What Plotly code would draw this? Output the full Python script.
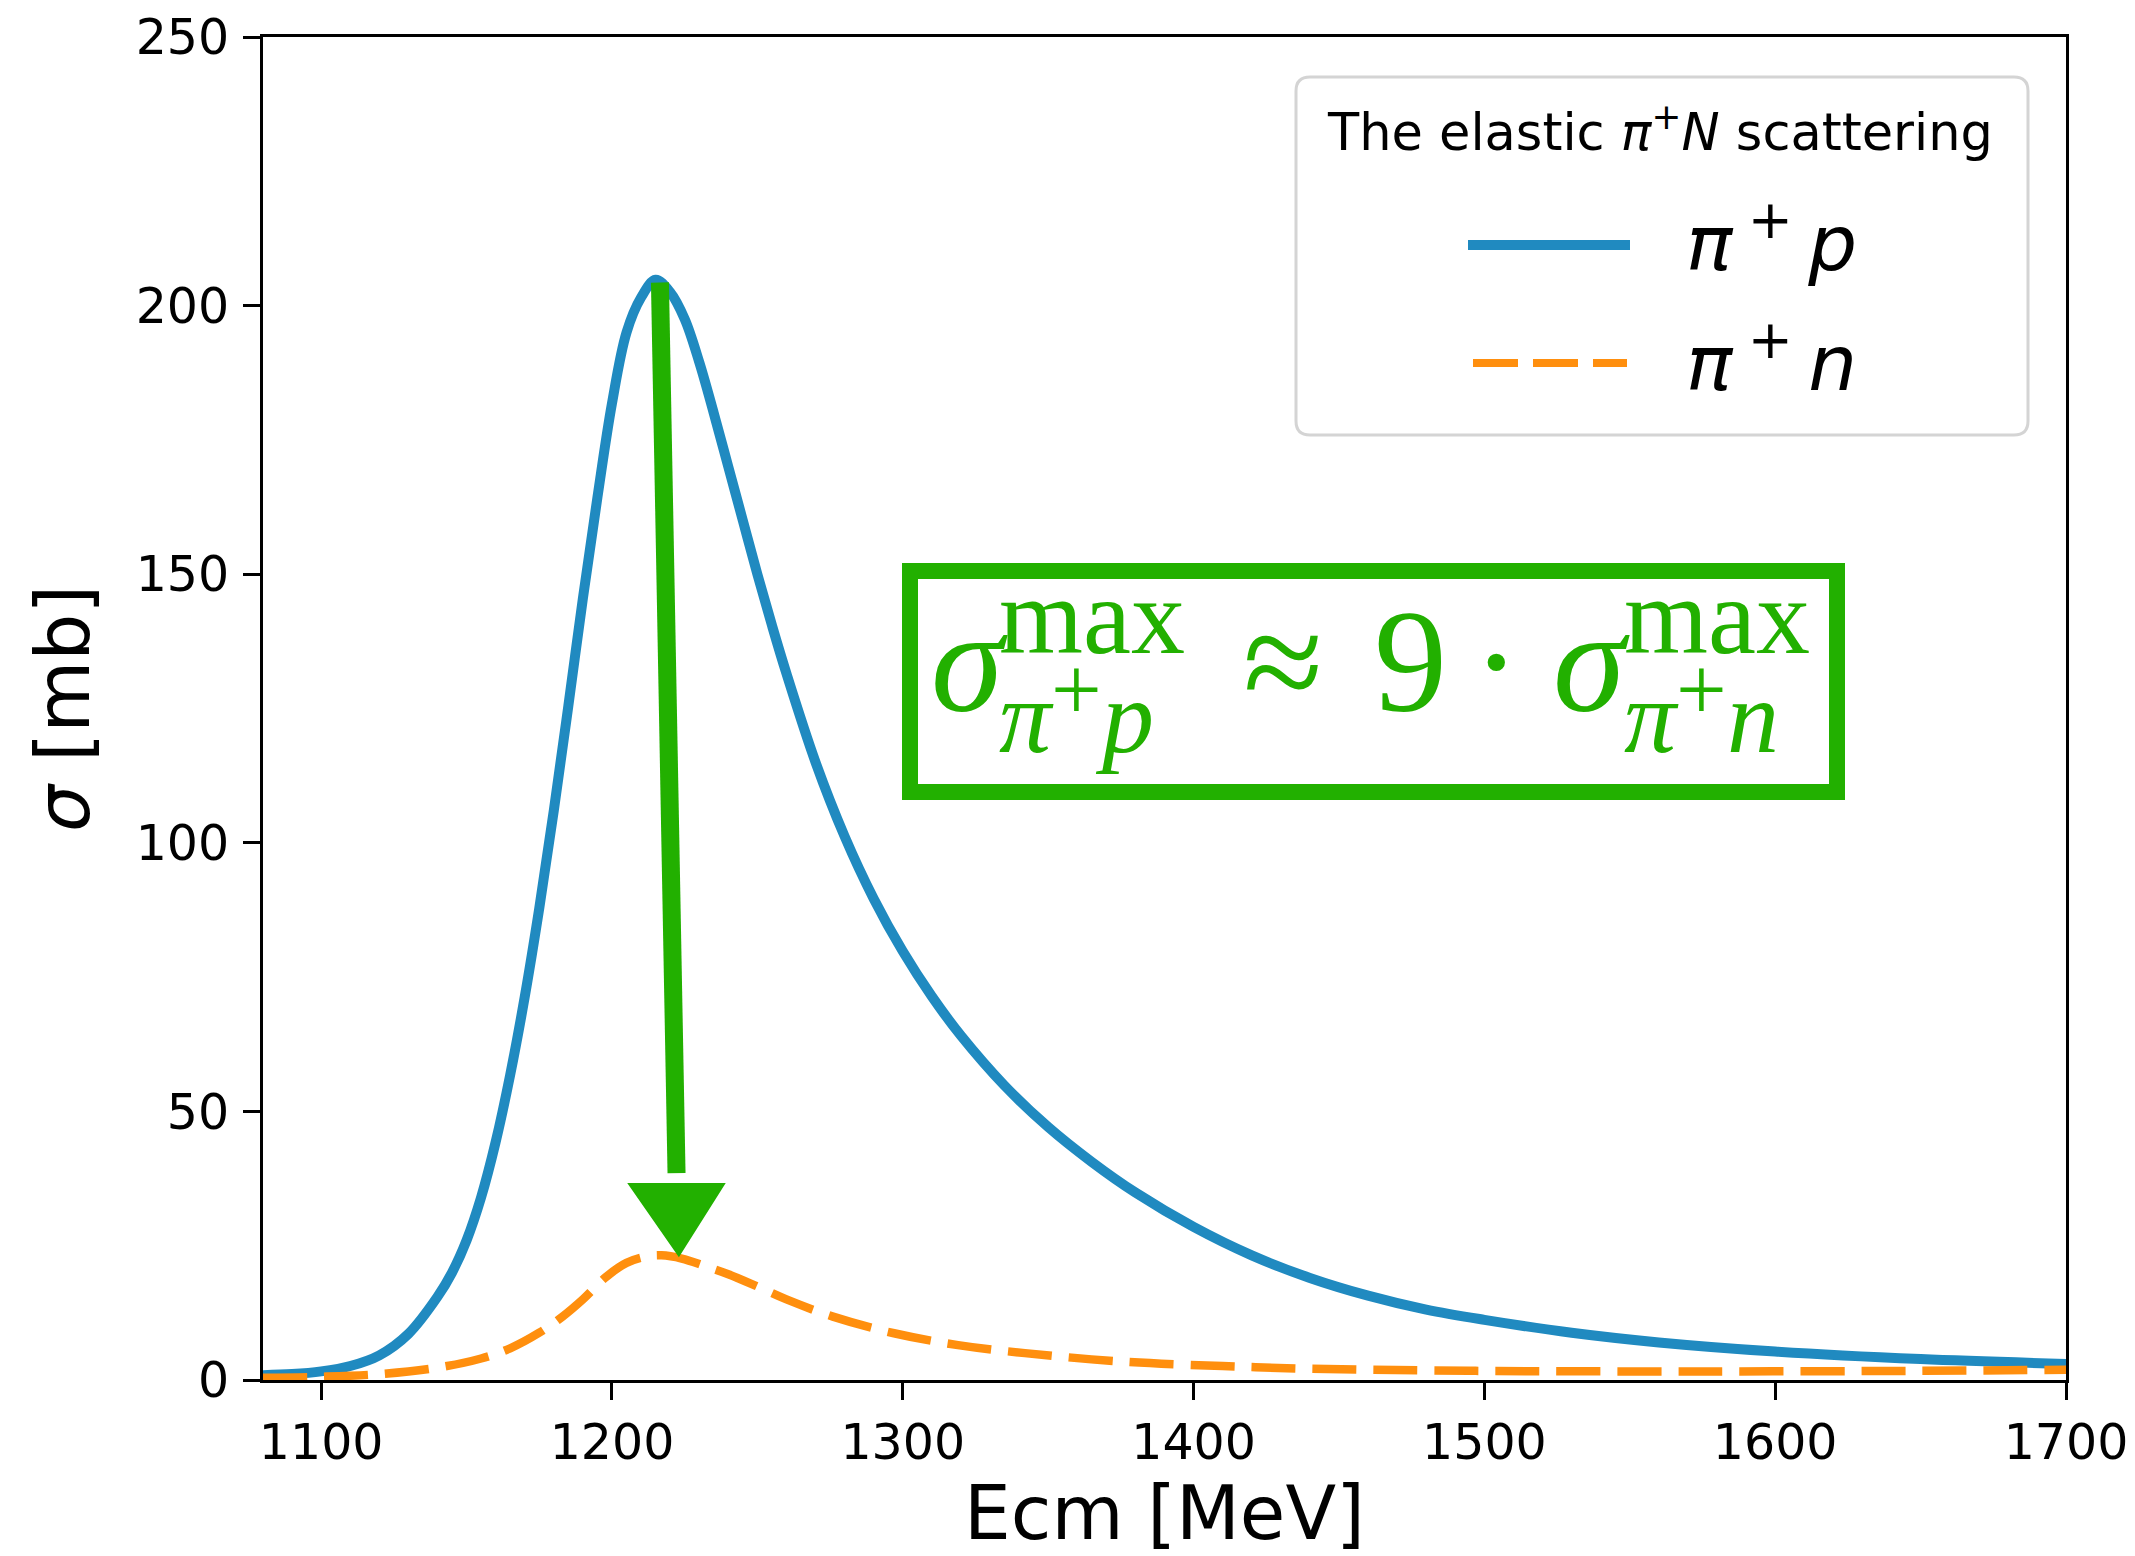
import plotly.graph_objects as go

# ---------------- data ----------------
energy_p = [1080, 1090, 1100, 1110, 1120, 1130, 1140, 1145, 1150, 1155, 1160, 1165,
            1170, 1175, 1180, 1185, 1190, 1195, 1200, 1205, 1210, 1215, 1220, 1225,
            1230, 1235, 1240, 1245, 1250, 1255, 1260, 1270, 1280, 1290, 1300, 1310,
            1320, 1335, 1350, 1365, 1380, 1400, 1420, 1440, 1460, 1480, 1500, 1530,
            1560, 1600, 1650, 1700]
sigma_p = [0.9, 1.1, 1.6, 2.6, 4.6, 8.6, 15.5, 20.0, 26.0, 34.0, 44.3, 56.8,
           71.3, 87.8, 106.0, 125.5, 145.5, 164.3, 181.8, 195.0, 201.5, 204.8, 202.5, 197.5,
           189.5, 180.0, 170.0, 160.0, 150.0, 140.5, 131.5, 115.0, 101.2, 89.6, 79.8, 71.4,
           64.1, 54.8, 47.1, 40.6, 34.9, 28.5, 23.2, 19.0, 15.7, 13.1, 11.2, 8.8,
           7.0, 5.3, 3.9, 3.0]

energy_n = [1080, 1100, 1120, 1140, 1155, 1165, 1175, 1183, 1190, 1198, 1205, 1212,
            1217, 1224, 1232, 1240, 1250, 1260, 1276, 1297, 1319, 1342, 1376, 1410,
            1440, 1497, 1574, 1650, 1700]
sigma_n = [0.4, 0.6, 1.1, 2.3, 4.0, 5.9, 8.8, 11.8, 15.0, 19.2, 21.8, 23.0,
           23.2, 22.6, 21.2, 19.7, 17.4, 15.0, 11.8, 8.7, 6.5, 5.0, 3.4, 2.6,
           2.1, 1.7, 1.6, 1.7, 1.9]

x_ticks = [1100, 1200, 1300, 1400, 1500, 1600, 1700]
y_ticks = [0, 50, 100, 150, 200, 250]
x_range = [1080, 1700]
y_range = [0, 250]

name_p = "π⁺p"
name_n = "π⁺n"
legend_title = "The elastic <i>π</i><sup>+</sup><i>N</i> scattering"
x_title = "Ecm [MeV]"
y_title = "<i>σ</i> [mb]"

# ---------------- styles ----------------
BLUE = "rgb(32,138,192)"
ORANGE = "rgb(255,143,14)"
GREEN = "#22b000"
SANS = "DejaVu Sans"
SERIF = "Liberation Serif"

FIG_W, FIG_H = 2135, 1556
ML, MR, MT, MB = 263, 69, 37, 176
PW = FIG_W - ML - MR
PH = FIG_H - MT - MB


def px(x):
    return (x - ML) / PW


def py(y):
    return (FIG_H - MB - y) / PH


fig = go.Figure()
fig.add_trace(go.Scatter(x=energy_p, y=sigma_p, mode="lines", name=name_p,
                         line=dict(color=BLUE, width=10, shape="spline", smoothing=1.0),
                         showlegend=False))
fig.add_trace(go.Scatter(x=energy_n, y=sigma_n, mode="lines", name=name_n,
                         line=dict(color=ORANGE, width=8.5, shape="spline", smoothing=1.0,
                                   dash="44px,17px"),
                         showlegend=False))

shapes = []
annotations = []


# ---------------- legend (custom, to match the large line samples) ----------------
def rounded_rect(x0, y0, x1, y1, r):
    return (f"M {px(x0 + r)},{py(y0)} L {px(x1 - r)},{py(y0)} "
            f"Q {px(x1)},{py(y0)} {px(x1)},{py(y0 + r)} L {px(x1)},{py(y1 - r)} "
            f"Q {px(x1)},{py(y1)} {px(x1 - r)},{py(y1)} L {px(x0 + r)},{py(y1)} "
            f"Q {px(x0)},{py(y1)} {px(x0)},{py(y1 - r)} L {px(x0)},{py(y0 + r)} "
            f"Q {px(x0)},{py(y0)} {px(x0 + r)},{py(y0)} Z")


shapes.append(dict(type="path", xref="paper", yref="paper",
                   path=rounded_rect(1296, 77, 2028, 435, 14),
                   fillcolor="rgba(255,255,255,0.85)",
                   line=dict(color="#d4d4d4", width=3)))
shapes.append(dict(type="line", xref="paper", yref="paper",
                   x0=px(1468), x1=px(1630), y0=py(245), y1=py(245),
                   line=dict(color=BLUE, width=10)))
shapes.append(dict(type="line", xref="paper", yref="paper",
                   x0=px(1473), x1=px(1627), y0=py(363), y1=py(363),
                   line=dict(color=ORANGE, width=8, dash="45px,15px")))


def text_at(s, x, bottom, size, family, color="black", xanchor="center", align="center"):
    annotations.append(dict(text=s, xref="paper", yref="paper",
                            x=px(x), y=py(bottom),
                            xanchor=xanchor, yanchor="bottom", showarrow=False,
                            borderpad=0, borderwidth=0, align=align,
                            font=dict(family=family, size=size, color=color)))


DS = 0.236   # DejaVu Sans descent
DL = 0.216   # Liberation Serif descent
TH = "\u2009"

text_at(legend_title, 1660, 150 + DS * 51, 51, SANS)
text_at(f"<i>π</i>{TH}<sup>+</sup>{TH}<i>p</i>", 1686, 270 + DS * 77, 77, SANS, xanchor="left")
text_at(f"<i>π</i>{TH}<sup>+</sup>{TH}<i>n</i>", 1686, 390 + DS * 77, 77, SANS, xanchor="left")

# ---------------- green equation box ----------------
shapes.append(dict(type="rect", xref="paper", yref="paper",
                   x0=px(910), x1=px(1837), y0=py(792), y1=py(571),
                   line=dict(color=GREEN, width=16)))

BIG = 146


def sup_sub(particle):
    return ("<span style='font-size:108px'>max</span><br>"
            "<span style='font-size:104px'><i>π</i></span>"
            "<sup><span style='font-size:90px'>+</span></sup>"
            f"<span style='font-size:104px'><i>{particle}</i></span>")


text_at("<i>σ</i>", 1008, 711 + DL * BIG, BIG, SERIF, GREEN, xanchor="right")
text_at(sup_sub("p"), 999, 752 + DL * 104, 76, SERIF, GREEN, xanchor="left", align="left")
text_at("≈", 1283, 711 + DL * BIG, BIG, SERIF, GREEN)
text_at("9", 1410, 711 + DL * BIG, BIG, SERIF, GREEN)
text_at("·", 1496, 711 + DL * BIG, BIG, SERIF, GREEN)
text_at("<i>σ</i>", 1630, 711 + DL * BIG, BIG, SERIF, GREEN, xanchor="right")
text_at(sup_sub("n"), 1624, 752 + DL * 104, 76, SERIF, GREEN, xanchor="left", align="left")

# ---------------- green arrow from the pi+p peak to the pi+n peak ----------------
ip = max(range(len(sigma_p)), key=lambda i: sigma_p[i])
iN = max(range(len(sigma_n)), key=lambda i: sigma_n[i])
top_x, top_y = energy_p[ip] + 1.5, sigma_p[ip] - 0.5
tip_x, tip_y = energy_n[iN] + 6, sigma_n[iN]
head_len, head_half = 13.3, 16.3
base_y = tip_y + head_len
base_x = tip_x - 0.8
shapes.append(dict(type="line", xref="x", yref="y",
                   x0=top_x, y0=top_y, x1=base_x, y1=base_y + 2,
                   line=dict(color=GREEN, width=18)))
shapes.append(dict(type="path", xref="x", yref="y",
                   path=(f"M {base_x - head_half},{base_y} L {base_x + head_half},{base_y} "
                         f"L {tip_x},{tip_y} Z"),
                   fillcolor=GREEN, line=dict(color=GREEN, width=2)))

axis_common = dict(showgrid=False, zeroline=False, showline=True, linecolor="black",
                   linewidth=3, mirror=True, ticks="outside", ticklen=17, tickwidth=2.5,
                   tickcolor="black",
                   tickfont=dict(family=SANS, size=49, color="black"))

fig.update_layout(
    width=FIG_W, height=FIG_H,
    margin=dict(l=ML, r=MR, t=MT, b=MB, autoexpand=False),
    paper_bgcolor="white", plot_bgcolor="white",
    showlegend=False,
    xaxis=dict(range=x_range, tickvals=x_ticks, ticktext=[str(v) for v in x_ticks],
               title=dict(text=x_title, font=dict(family=SANS, size=74, color="black"),
                          standoff=19),
               **axis_common),
    yaxis=dict(range=y_range, tickvals=y_ticks, ticktext=[str(v) for v in y_ticks],
               ticklabelstandoff=4,
               title=dict(text=y_title, font=dict(family=SANS, size=74, color="black"),
                          standoff=22),
               **axis_common),
    shapes=shapes,
    annotations=annotations,
)

fig.write_html("out.html",
               config={"displayModeBar": False},
               post_script="document.body.style.margin='0';"
                           "document.body.style.overflow='hidden';")
